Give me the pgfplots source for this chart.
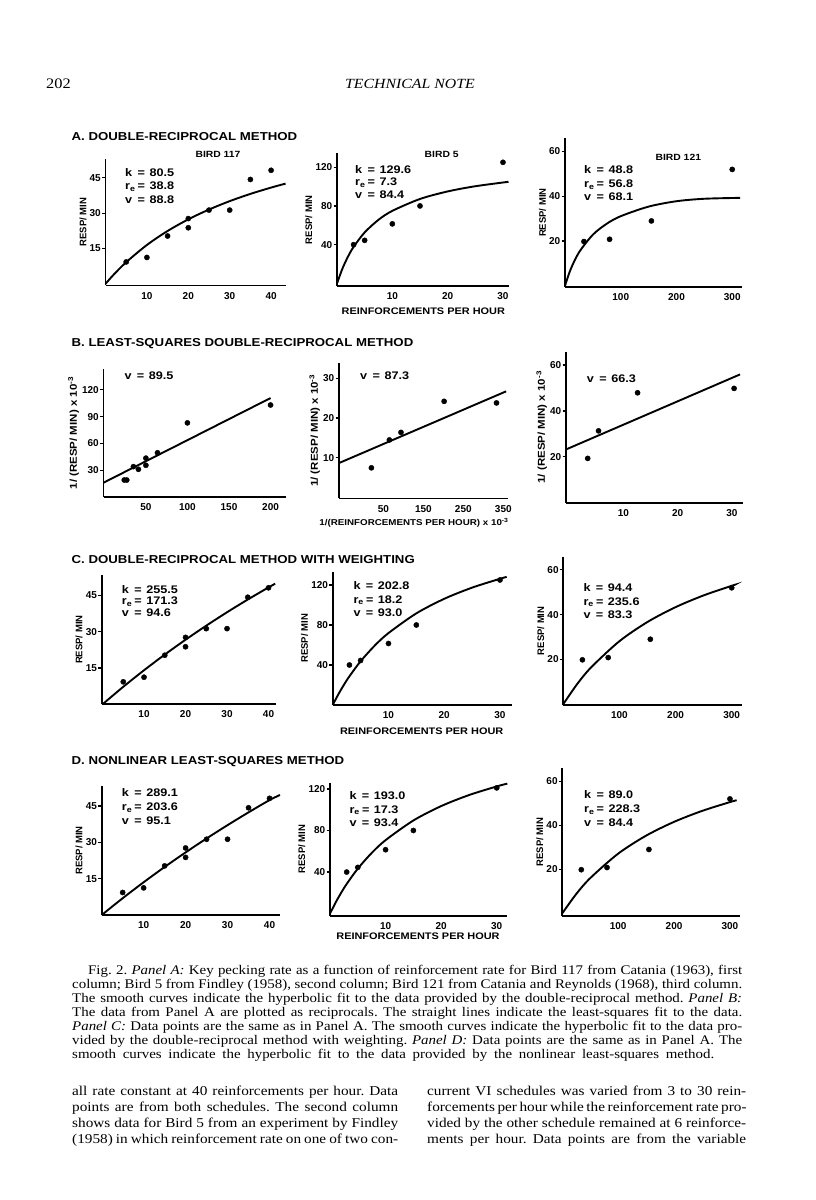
\documentclass[border=0pt]{standalone}
\usepackage{fontspec}
\setmainfont{Liberation Serif}
\newfontfamily\capf[FakeStretch=1.13]{Liberation Serif}
\newfontfamily\hv{Liberation Sans}
\newfontfamily\hvx[FakeStretch=1.15]{Liberation Sans}
\usepackage{pgfplots}
\pgfplotsset{compat=1.18}
\pgfplotsset{
  panel/.style={
    scale only axis, anchor=south west, clip=false,
    axis lines*=left,
    axis line style={-, line width=1.9pt},
    tick style={black, line width=1.2pt},
    xtick style={draw=none},
    tick align=outside, major tick length=3.5pt,
    ticklabel style={font=\hv\bfseries\fontsize{10}{10}\selectfont, inner sep=1pt},
    /pgf/number format/assume math mode=true,
    xticklabel style={yshift=-2pt},
    ylabel style={font=\hv\bfseries\fontsize{9.5}{9.5}\selectfont, inner sep=2pt},
    ylabel={RESP/ MIN},
  },
  blab/.style={ylabel={1/ (RESP/ MIN) x 10\textsuperscript{-3}},
    ylabel style={font=\hvx\bfseries\fontsize{10}{10}\selectfont}},
  pts/.style={only marks, mark=*, mark size=2.6pt, black, mark options={draw=black, fill=black}},
  fitline/.style={no marks, line width=1.9pt, black, smooth},
}
\newcommand\ptxt{\hvx\bfseries\fontsize{11}{11}\selectfont}
\newcommand\pl[2]{\makebox[12.5pt][l]{#1}=\hspace{4.5pt}#2}
\newcommand\three[6]{%
  \node[anchor=base west,inner sep=0pt,font=\ptxt] at (#1pt,#2pt) {\pl{k}{#4}};
  \node[anchor=base west,inner sep=0pt,font=\ptxt] at (#1pt,#2pt-#3pt) {\pl{r\textsubscript{e}}{#5}};
  \node[anchor=base west,inner sep=0pt,font=\ptxt] at (#1pt,#2pt-2*#3pt) {\pl{v}{#6}};
}
\begin{document}
\frenchspacing
\begin{tikzpicture}
\useasboundingbox (0pt,0pt) rectangle (816pt,1200pt);
% header
\node[anchor=base west,inner sep=0pt,font=\capf\fontsize{14.5}{14}\selectfont] at (46pt,1111pt) {202};
\node[anchor=base,inner sep=0pt,font=\capf\itshape\fontsize{14}{14}\selectfont] at (410pt,1111pt) {TECHNICAL NOTE};
% section headers
\begin{scope}[every node/.style={anchor=west,inner sep=0pt,font=\hvx\bfseries\fontsize{11.5}{11.5}\selectfont}]
\node at (71.5pt,1063pt) {A. DOUBLE-RECIPROCAL METHOD};
\node at (71.5pt,856pt) {B. LEAST-SQUARES DOUBLE-RECIPROCAL METHOD};
\node at (71.5pt,640pt) {C. DOUBLE-RECIPROCAL METHOD WITH WEIGHTING};
\node at (71.5pt,438.3pt) {D. NONLINEAR LEAST-SQUARES METHOD};
\end{scope}
\begin{scope}[every node/.style={inner sep=0pt,font=\hvx\bfseries\fontsize{9}{9}\selectfont}]
\node at (218pt,1046pt) {BIRD 117};
\node at (441.7pt,1045.7pt) {BIRD 5};
\node at (678.3pt,1042.3pt) {BIRD 121};
\end{scope}
\begin{scope}[every node/.style={inner sep=0pt,font=\hvx\bfseries\fontsize{9.5}{9.5}\selectfont}]
\node at (423.3pt,888.3pt) {REINFORCEMENTS PER HOUR};
\node at (421.7pt,468.3pt) {REINFORCEMENTS PER HOUR};
\node at (418pt,264pt) {REINFORCEMENTS PER HOUR};
\end{scope}
\node[inner sep=0pt,font=\hvx\bfseries\fontsize{8.5}{8.5}\selectfont] at (414pt,677pt) {1/(REINFORCEMENTS PER HOUR) x 10\textsuperscript{-3}};

% ---------------- Panel A
\begin{axis}[panel, at={(105.5pt,914.5pt)}, width=180.5pt, height=126.5pt,
  xmin=0, xmax=43.6, ymin=-0.7, ymax=53, xtick={10,20,30,40}, ytick={15,30,45}]
\addplot[fitline] coordinates {(0,0)(2,3.95)(5,9.19)(10,16.5)(15,22.44)(20,27.38)(25,31.54)(30,35.1)(35,38.18)(40,40.86)(43.5,42.55)};
\addplot[pts] coordinates {(5,9.3)(10,11.2)(15,20.3)(20,27.7)(20,23.8)(25,31.3)(30,31.3)(35,44.3)(40,48.2)};
\end{axis}
\begin{axis}[panel, at={(337pt,914pt)}, width=171.5pt, height=132.5pt,
  xmin=0, xmax=31, ymin=-2.6, ymax=134.1, xtick={10,20,30}, ytick={40,80,120}]
\addplot[fitline] coordinates {(0,0)(1,15.61)(2,27.87)(3,37.75)(5,52.68)(7.5,65.68)(10,74.91)(15,87.17)(20,94.95)(25,100.31)(31,104.9)};
\addplot[pts] coordinates {(3,40)(5,44.5)(10,61.5)(15,80)(30,125)};
\end{axis}
\begin{axis}[panel, at={(565pt,913pt)}, width=176.7pt, height=148.7pt,
  xmin=0, xmax=317, ymin=-0.5, ymax=65.9, xtick={100,200,300}, ytick={20,40,60}]
\addplot[fitline] coordinates {(0,0)(10,7.31)(25,14.91)(50,22.85)(75,27.77)(100,31.12)(150,35.4)(200,37.8)(250,38.9)(314,39.3)};
\addplot[pts] coordinates {(34,19.8)(80,20.8)(155,29)(300,52)};
\end{axis}
\three{125}{1023.3}{13.3}{80.5}{38.8}{88.8}
\three{355}{1026.7}{12.6}{129.6}{7.3}{84.4}
\three{584}{1026}{13.5}{48.8}{56.8}{68.1}

% ---------------- Panel B
\begin{axis}[panel, blab, at={(103.5pt,703pt)}, width=182.5pt, height=127.7pt,
  xmin=-1, xmax=218.6, ymin=0, ymax=143, xtick={50,100,150,200}, ytick={30,60,90,120}]
\addplot[no marks, line width=1.9pt, black] coordinates {(-1,16)(200,110.8)};
\addplot[pts] coordinates {(200,103)(100,83)(64,49.5)(50,43.5)(50,35.5)(41,31)(35,34)(24,19)(27,19)};
\end{axis}
\begin{axis}[panel, blab, at={(339pt,701.5pt)}, width=169.3pt, height=135.8pt,
  xmin=-61, xmax=362.5, ymin=-0.2, ymax=33.9, xtick={50,150,250,350}, ytick={10,20,30}]
\addplot[no marks, line width=1.9pt, black] coordinates {(-61,8.7)(357,26.7)};
\addplot[pts] coordinates {(333,23.8)(202,24.2)(94,16.4)(65,14.5)(20,7.5)};
\end{axis}
\begin{axis}[panel, blab, at={(566pt,697.3pt)}, width=177.3pt, height=151pt,
  xmin=-0.6, xmax=32.1, ymin=0, ymax=65.8, xtick={10,20,30}, ytick={20,40,60}]
\addplot[no marks, line width=1.9pt, black] coordinates {(-0.6,23.2)(31.5,55.9)};
\addplot[pts] coordinates {(3.4,19.3)(5.4,31.3)(12.6,47.9)(30.4,49.8)};
\end{axis}
\node[anchor=base west,inner sep=0pt,font=\ptxt] at (124.3pt,820.3pt) {\pl{v}{89.5}};
\node[anchor=base west,inner sep=0pt,font=\ptxt] at (360pt,820pt) {\pl{v}{87.3}};
\node[anchor=base west,inner sep=0pt,font=\ptxt] at (586.7pt,817pt) {\pl{v}{66.3}};

% ---------------- Panel C
\begin{axis}[panel, at={(101.7pt,495.7pt)}, width=174.3pt, height=129.3pt,
  xmin=-0.2, xmax=41.8, ymin=0, ymax=53.5, xtick={10,20,30,40}, ytick={15,30,45}]
\addplot[fitline] coordinates {(0,0)(5,7.25)(10,14.09)(15,20.57)(20,26.71)(25,32.54)(30,38.08)(35,43.35)(40,48.37)(41.6,49.9)};
\addplot[pts] coordinates {(5,9.3)(10,11.2)(15,20.3)(20,27.7)(20,23.8)(25,31.3)(30,31.3)(35,44.3)(40,48.2)};
\end{axis}
\begin{axis}[panel, at={(332.7pt,495pt)}, width=179pt, height=133.3pt,
  xmin=0, xmax=32.1, ymin=0, ymax=133.3, xtick={10,20,30}, ytick={40,80,120}]
\addplot[fitline] coordinates {(0,0)(1,10.56)(2,20.08)(3,28.7)(5,43.71)(7.5,59.18)(10,71.91)(15,91.63)(20,106.18)(25,117.36)(30,126.22)(31.2,128.1)};
\addplot[pts] coordinates {(3,40)(5,44.5)(10,61.5)(15,80)(30,125)};
\end{axis}
\begin{axis}[panel, at={(563.3pt,495pt)}, width=178.4pt, height=148.3pt,
  xmin=0, xmax=317.8, ymin=-0.4, ymax=65.9, xtick={100,200,300}, ytick={20,40,60}]
\addplot[fitline] coordinates {(0,0)(25,9.06)(50,16.53)(100,28.13)(150,36.72)(200,43.34)(250,48.6)(300,52.88)(305,53.26)};
\addplot[pts] coordinates {(34,19.8)(80,20.8)(155,29)(300,52)};
\end{axis}
\three{121.7}{606.7}{11.5}{255.5}{171.3}{94.6}
\three{353.3}{610}{13.3}{202.8}{18.2}{93.0}
\three{583.3}{608.7}{13.8}{94.4}{235.6}{83.3}

% ---------------- Panel D
\begin{axis}[panel, at={(101.7pt,285pt)}, width=178.3pt, height=129pt,
  xmin=0, xmax=42.5, ymin=0, ymax=53.3, xtick={10,20,30,40}, ytick={15,30,45}]
\addplot[fitline] coordinates {(0,0)(5,6.93)(10,13.53)(15,19.84)(20,25.86)(25,31.62)(30,37.13)(35,42.41)(40,47.47)(42.5,49.6)};
\addplot[pts] coordinates {(5,9.3)(10,11.2)(15,20.3)(20,27.7)(20,23.8)(25,31.3)(30,31.3)(35,44.3)(40,48.2)};
\end{axis}
\begin{axis}[panel, at={(330pt,284.3pt)}, width=177.3pt, height=133pt,
  xmin=0, xmax=31.9, ymin=-2, ymax=126, xtick={10,20,30}, ytick={40,80,120}]
\addplot[fitline] coordinates {(0,0)(1,10.55)(2,20)(3,28.52)(5,43.27)(7.5,58.37)(10,70.7)(15,89.63)(20,103.49)(25,114.07)(30,122.41)(31.9,125.1)};
\addplot[pts] coordinates {(3,40)(5,44.5)(10,61.5)(15,80)(30,121)};
\end{axis}
\begin{axis}[panel, at={(562.3pt,284.3pt)}, width=177.7pt, height=147.4pt,
  xmin=0, xmax=318, ymin=-1.1, ymax=65.9, xtick={100,200,300}, ytick={20,40,60}]
\addplot[fitline] coordinates {(0,0)(25,8.78)(50,15.99)(100,27.11)(150,35.29)(200,41.56)(250,46.52)(300,50.54)(312,51.39)};
\addplot[pts] coordinates {(34,19.8)(80,20.8)(155,29)(300,52)};
\end{axis}
\three{121.7}{403.3}{13.8}{289.1}{203.6}{95.1}
\three{349.3}{400.3}{13.5}{193.0}{17.3}{93.4}
\three{584}{401}{14}{89.0}{228.3}{84.4}

% ---------------- caption
\begin{scope}[every node/.style={anchor=base west,inner sep=0pt,font=\capf\fontsize{13.2}{14}\selectfont}]
\node at (88pt,225pt) {\makebox[654pt][s]{Fig. 2. \textit{Panel A:} Key pecking rate as a function of reinforcement rate for Bird 117 from Catania (1963), first}};
\node at (72pt,211pt) {\makebox[670pt][s]{column; Bird 5 from Findley (1958), second column; Bird 121 from Catania and Reynolds (1968), third column.}};
\node at (72pt,197pt) {\makebox[670pt][s]{The smooth curves indicate the hyperbolic fit to the data provided by the double-reciprocal method. \textit{Panel B:}}};
\node at (72pt,183pt) {\makebox[670pt][s]{The data from Panel A are plotted as reciprocals. The straight lines indicate the least-squares fit to the data.}};
\node at (72pt,169pt) {\makebox[670pt][s]{\textit{Panel C:} Data points are the same as in Panel A. The smooth curves indicate the hyperbolic fit to the data pro-}};
\node at (72pt,155pt) {\makebox[670pt][s]{vided by the double-reciprocal method with weighting. \textit{Panel D:} Data points are the same as in Panel A. The}};
\node at (72pt,141pt) {\makebox[642pt][s]{smooth curves indicate the hyperbolic fit to the data provided by the nonlinear least-squares method.}};
\end{scope}
% ---------------- body text
\begin{scope}[every node/.style={anchor=base west,inner sep=0pt,font=\capf\fontsize{13.5}{16}\selectfont}]
\node at (72pt,104pt) {\makebox[326pt][s]{all rate constant at 40 reinforcements per hour. Data}};
\node at (72pt,88pt) {\makebox[326pt][s]{points are from both schedules. The second column}};
\node at (72pt,72pt) {\makebox[326pt][s]{shows data for Bird 5 from an experiment by Findley}};
\node at (72pt,56pt) {\makebox[326pt][s]{(1958) in which reinforcement rate on one of two con-}};
\node at (427pt,104pt) {\makebox[319pt][s]{current VI schedules was varied from 3 to 30 rein-}};
\node at (427pt,88pt) {\makebox[319pt][s]{forcements per hour while the reinforcement rate pro-}};
\node at (427pt,72pt) {\makebox[319pt][s]{vided by the other schedule remained at 6 reinforce-}};
\node at (427pt,56pt) {\makebox[319pt][s]{ments per hour. Data points are from the variable}};
\end{scope}
\end{tikzpicture}
\end{document}
